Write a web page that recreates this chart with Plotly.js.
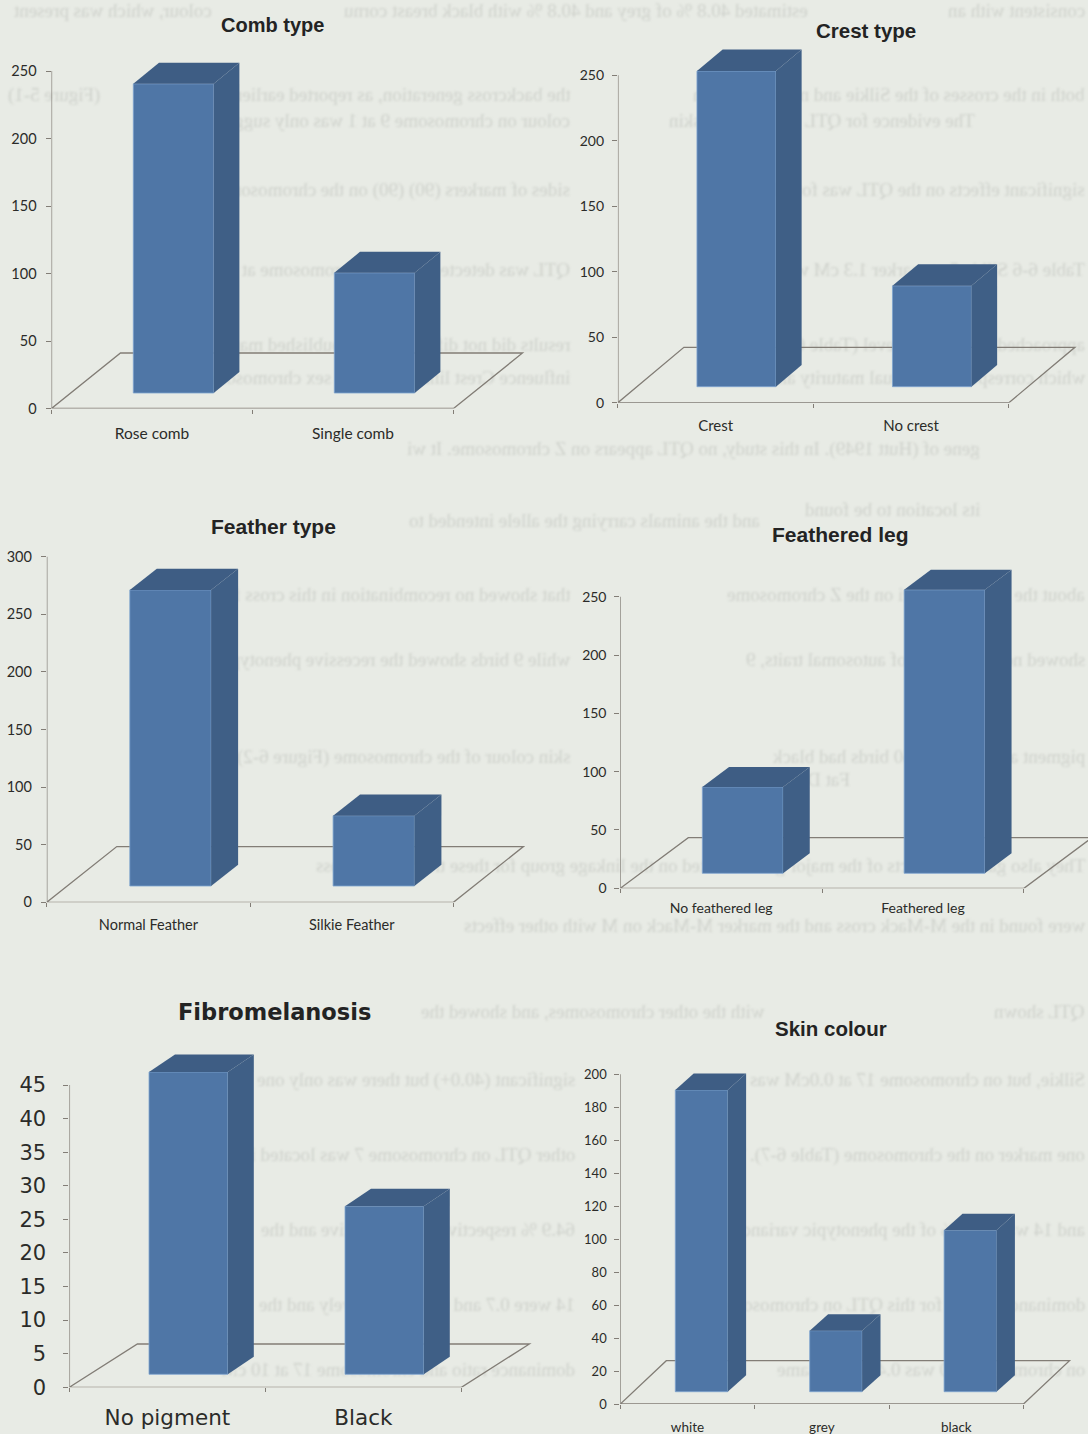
<!DOCTYPE html>
<html>
<head>
<meta charset="utf-8">
<title>Phenotype distributions</title>
<script src="https://cdn.plot.ly/plotly-3.0.1.min.js"></script>
<style>
  html, body { margin: 0; padding: 0; background: #e8ebe5; width: 1088px; height: 1434px; overflow: hidden; }
  #page-text { position: absolute; left: 0; top: 0; width: 1088px; height: 1434px; overflow: hidden; filter: blur(1.3px); }
  #page-text div { position: absolute; white-space: nowrap; font-family: "Liberation Serif", serif; font-size: 19px; line-height: 22px; color: #cfd2cc; transform: scaleX(-1); }
  #chart { position: absolute; left: 0; top: 0; width: 1088px; height: 1434px; }
</style>
</head>
<body>
<div id="page-text"></div>
<div id="chart"></div>
<script>
// Counts per phenotype class
const combCategories = ['Rose comb', 'Single comb'];
const combValues = [229, 89];
const crestCategories = ['Crest', 'No crest'];
const crestValues = [241, 77];
const featherCategories = ['Normal Feather', 'Silkie Feather'];
const featherValues = [257, 61];
const legCategories = ['No feathered leg', 'Feathered leg'];
const legValues = [74, 243];
const fibroCategories = ['No pigment', 'Black'];
const fibroValues = [45, 25];
const skinCategories = ['white', 'grey', 'black'];
const skinValues = [183, 37, 98];

const combTicks = [0, 50, 100, 150, 200, 250];
const crestTicks = [0, 50, 100, 150, 200, 250];
const featherTicks = [0, 50, 100, 150, 200, 250, 300];
const legTicks = [0, 50, 100, 150, 200, 250];
const fibroTicks = [0, 5, 10, 15, 20, 25, 30, 35, 40, 45];
const skinTicks = [0, 20, 40, 60, 80, 100, 120, 140, 160, 180, 200];

// Facing page showing through the paper, mirrored: [right edge, line top, words]
const pageLines = [
  [1085, 0, 'consistent with an'],
  [808, 0, 'estimated 40.8 % of grey and 40.8 % with black breast cornu'],
  [212, 0, 'colour, which was present'],
  [1085, 84, 'both in the crosses of the Silkie and normal birds in'],
  [570, 84, 'the backcross generation, as reported earlier'],
  [100, 84, '(Figure 5-1)'],
  [975, 110, 'The evidence for QTL 11, affecting skin'],
  [570, 110, 'colour on chromosome 9 at 1 was only suggestive'],
  [1085, 179, 'significant effects on the QTL was found at'],
  [570, 179, 'sides of markers (90) (90) on the chromosome'],
  [1085, 259, 'Table 6-6 Silkie 5 at marker 1.3 cM while no'],
  [570, 259, 'QTL was detected on the Z chromosome at 0cM in F2'],
  [1085, 334, 'approached the genome level (Table 6-6). These'],
  [570, 334, 'results did not differ from the published maps'],
  [1085, 367, 'which corresponds to sexual maturity and'],
  [570, 367, 'influence Crest linked with the sex chromosome'],
  [980, 438, 'gene of (Hutt 1949). In this study, no QTL appears on Z chromosome. It wi'],
  [980, 499, 'its location to be found'],
  [760, 510, 'and the animals carrying the allele intended to'],
  [1085, 584, 'about the number of loci on the Z chromosome'],
  [570, 584, 'that showed no recombination in this cross family'],
  [1085, 649, 'showed no segregation of autosomal traits, 9'],
  [570, 649, 'while 9 birds showed the recessive phenotype'],
  [1085, 746, 'pigment appeared and 50 birds had black'],
  [570, 746, 'skin colour of the chromosome (Figure 6-2)'],
  [850, 769, 'Fat Distribution'],
  [1085, 855, 'They also gave the effects of the major genes located on the linkage group for these traits in the cross'],
  [1085, 915, 'were found in the M-Mack cross and the marker M-Mack on M with other effects'],
  [1085, 1001, 'QTL shown'],
  [765, 1001, 'with the other chromosomes, and showed the'],
  [1085, 1069, 'Silkie, but on chromosome 17 at 0.0cM was'],
  [575, 1069, 'significant (40.0+) but there was only one'],
  [1085, 1144, 'one marker on the chromosome (Table 6-7). The'],
  [575, 1144, 'other QTL on chromosome 7 was located in'],
  [1085, 1219, 'and 14 was 23.2 % of the phenotypic variance'],
  [575, 1219, '64.9 % respectively. The additive and the'],
  [1085, 1294, 'dominance effects for this QTL on chromosome'],
  [575, 1294, '14 were 0.7 and 0.10 respectively and the'],
  [1085, 1359, 'on chromosome 20 was 0.43 at the same'],
  [575, 1359, 'dominance ratio and chromosome 17 at 10 cM']
];
const pageLayer = document.getElementById('page-text');
pageLines.forEach(([edge, top, words]) => {
  const line = document.createElement('div');
  line.textContent = words;
  line.style.right = (1088 - edge) + 'px';
  line.style.top = top + 'px';
  pageLayer.appendChild(line);
});

// Canvas and bar colours
const W = 1088, H = 1434;
const FRONT = '#4f76a6', SIDE = '#3f5f86', TOP = '#3e5d84', RIM = '#7fa5cf', AXIS = '#827d76';

// Panel placement in page pixels: y axis x, slot width, baseline y, top tick y,
// floor depth, bar depth, distance of the bar foot from the front floor edge.
const CALIBRI = 'Lato, "Open Sans", sans-serif';
const ARIAL = '"Liberation Sans", Arial, sans-serif';
const VERDANA = '"DejaVu Sans", sans-serif';
const panels = [
  { title: 'Comb type', cats: combCategories, vals: combValues, ticks: combTicks,
    left: 51.5, slot: 201, y0: 408.5, yTop: 71, floor: [69, 55.5], depth: [25.7, 21], foot: [21.5, 15.5],
    titleX: 272, titleY: 25, titleSize: 20, font: CALIBRI, size: 14.5, labelSize: 15.5, standoff: 14, yStandoff: 6, width: 0.40 },
  { title: 'Crest type', cats: crestCategories, vals: crestValues, ticks: crestTicks,
    left: 617.9, slot: 195.5, y0: 402.7, yTop: 75.3, floor: [66, 55.4], depth: [25.7, 21.7], foot: [20.8, 16],
    titleX: 866, titleY: 30, titleSize: 20.5, font: CALIBRI, size: 14, labelSize: 15, standoff: 12, yStandoff: 5, width: 0.404 },
  { title: 'Feather type', cats: featherCategories, vals: featherValues, ticks: featherTicks,
    left: 46.8, slot: 203.3, y0: 902.3, yTop: 556.7, floor: [70, 55.7], depth: [27, 21.3], foot: [22, 16.3],
    titleX: 273, titleY: 527, titleSize: 21, font: CALIBRI, size: 14.5, labelSize: 14.5, standoff: 12, yStandoff: 6, width: 0.40 },
  { title: 'Feathered leg', cats: legCategories, vals: legValues, ticks: legTicks,
    left: 620.3, slot: 201.8, y0: 888.3, yTop: 596.7, floor: [68, 50.6], depth: [26.7, 20], foot: [21.5, 15],
    titleX: 840, titleY: 535, titleSize: 21, font: CALIBRI, size: 14, labelSize: 14, standoff: 10, yStandoff: 5, width: 0.40 },
  { title: 'Fibromelanosis', cats: fibroCategories, vals: fibroValues, ticks: fibroTicks,
    left: 69.4, slot: 196, y0: 1387.3, yTop: 1085, floor: [68, 43.3], depth: [26, 17.6], foot: [21, 13],
    titleX: 274, titleY: 1012, titleSize: 22.5, titleFont: VERDANA, font: VERDANA, size: 21, labelSize: 21.5, standoff: 15, yStandoff: 13, width: 0.402 },
  { title: 'Skin colour', cats: skinCategories, vals: skinValues, ticks: skinTicks,
    left: 620.3, slot: 134.4, y0: 1404, yTop: 1074.3, floor: [46, 43.3], depth: [18.4, 16.4], foot: [14, 12.3],
    titleX: 831, titleY: 1028, titleSize: 20.5, font: CALIBRI, size: 13, labelSize: 13.5, standoff: 13, yStandoff: 5, width: 0.39 }
];

const traces = [], shapes = [], annotations = [];
const layout = {
  width: W, height: H, margin: { l: 0, r: 0, t: 0, b: 0 },
  paper_bgcolor: 'rgba(0,0,0,0)', plot_bgcolor: 'rgba(0,0,0,0)',
  showlegend: false, hovermode: false
};

panels.forEach((p, k) => {
  const suffix = k === 0 ? '' : String(k + 1);
  const xName = 'x' + suffix, yName = 'y' + suffix;
  const n = p.cats.length;
  const tickMax = p.ticks[p.ticks.length - 1];
  const pxPerValue = (p.y0 - p.yTop) / tickMax;
  const toX = px => px / p.slot;
  const toY = px => px / pxPerValue;

  // Axis spans wide enough for the floor and the deepest bar top
  const rightPx = Math.min(W, p.left + p.slot * n + p.floor[0] + 4);
  const tallest = Math.max(...p.vals);
  const topPx = Math.max(0, p.y0 - Math.max(p.y0 - p.yTop, (tallest * pxPerValue + p.foot[1] + p.depth[1])) - 4);

  layout['xaxis' + suffix] = {
    domain: [p.left / W, rightPx / W],
    range: [0, (rightPx - p.left) / p.slot],
    anchor: yName, showgrid: false, zeroline: false, showline: false,
    tickmode: 'array',
    tickvals: p.cats.map((_, i) => i + 0.5),
    ticktext: p.cats,
    ticks: '', ticklabelstandoff: p.standoff,
    tickfont: { family: p.font, size: p.labelSize, color: '#2b2b29' },
    minor: { tickmode: 'array', tickvals: Array.from({ length: n + 1 }, (_, i) => i), ticks: 'outside', ticklen: 4, tickwidth: 1, tickcolor: AXIS, showgrid: false }
  };
  layout['yaxis' + suffix] = {
    domain: [1 - p.y0 / H, 1 - topPx / H],
    range: [0, toY(p.y0 - topPx)],
    anchor: xName, showgrid: false, zeroline: false, showline: false,
    tickmode: 'array', tickvals: p.ticks, ticks: 'outside', ticklen: 5, tickwidth: 1, tickcolor: AXIS,
    ticklabelstandoff: p.yStandoff,
    tickfont: { family: p.font, size: p.size, color: '#2b2b29' }
  };

  // Perspective floor and value axis sit under the bars
  const fx = toX(p.floor[0]), fy = toY(p.floor[1]);
  shapes.push({
    type: 'path', xref: xName, yref: yName, layer: 'below',
    path: `M 0 0 L ${n} 0 L ${n + fx} ${fy} L ${fx} ${fy} Z`,
    line: { color: AXIS, width: 1.3 }, fillcolor: 'rgba(0,0,0,0)'
  });
  shapes.push({
    type: 'line', xref: xName, yref: yName, layer: 'below',
    x0: 0, x1: 0, y0: 0, y1: tickMax, line: { color: AXIS, width: 1.3 }
  });

  const footX = toX(p.foot[0]), footY = toY(p.foot[1]);
  const dx = toX(p.depth[0]), dy = toY(p.depth[1]);
  const centers = p.cats.map((_, i) => i + 0.5 + footX);

  traces.push({
    type: 'bar', xaxis: xName, yaxis: yName, name: p.title,
    x: centers, y: p.vals, base: p.vals.map(() => footY), width: p.width,
    marker: { color: FRONT, line: { color: RIM, width: 0.8 } }
  });

  // Side and top faces follow each bar's value
  p.vals.forEach((v, i) => {
    const x0 = centers[i] - p.width / 2, x1 = centers[i] + p.width / 2;
    const top = footY + v;
    const rim = { color: 'rgba(0,0,0,0)', width: 0 };
    traces.push({
      type: 'scatter', mode: 'lines', xaxis: xName, yaxis: yName, fill: 'toself', fillcolor: SIDE, line: rim,
      x: [x1, x1 + dx, x1 + dx, x1, x1], y: [footY, footY + dy, top + dy, top, footY]
    });
    traces.push({
      type: 'scatter', mode: 'lines', xaxis: xName, yaxis: yName, fill: 'toself', fillcolor: TOP, line: rim,
      x: [x0, x0 + dx, x1 + dx, x1, x0], y: [top, top + dy, top + dy, top, top]
    });
  });

  annotations.push({
    xref: 'paper', yref: 'paper', x: p.titleX / W, y: 1 - p.titleY / H,
    xanchor: 'center', yanchor: 'middle', showarrow: false, text: '<b>' + p.title + '</b>',
    font: { family: p.titleFont || ARIAL, size: p.titleSize, color: '#232323' }
  });
});

layout.shapes = shapes;
layout.annotations = annotations;
Plotly.newPlot('chart', traces, layout, { displayModeBar: false, staticPlot: true });
</script>
</body>
</html>
